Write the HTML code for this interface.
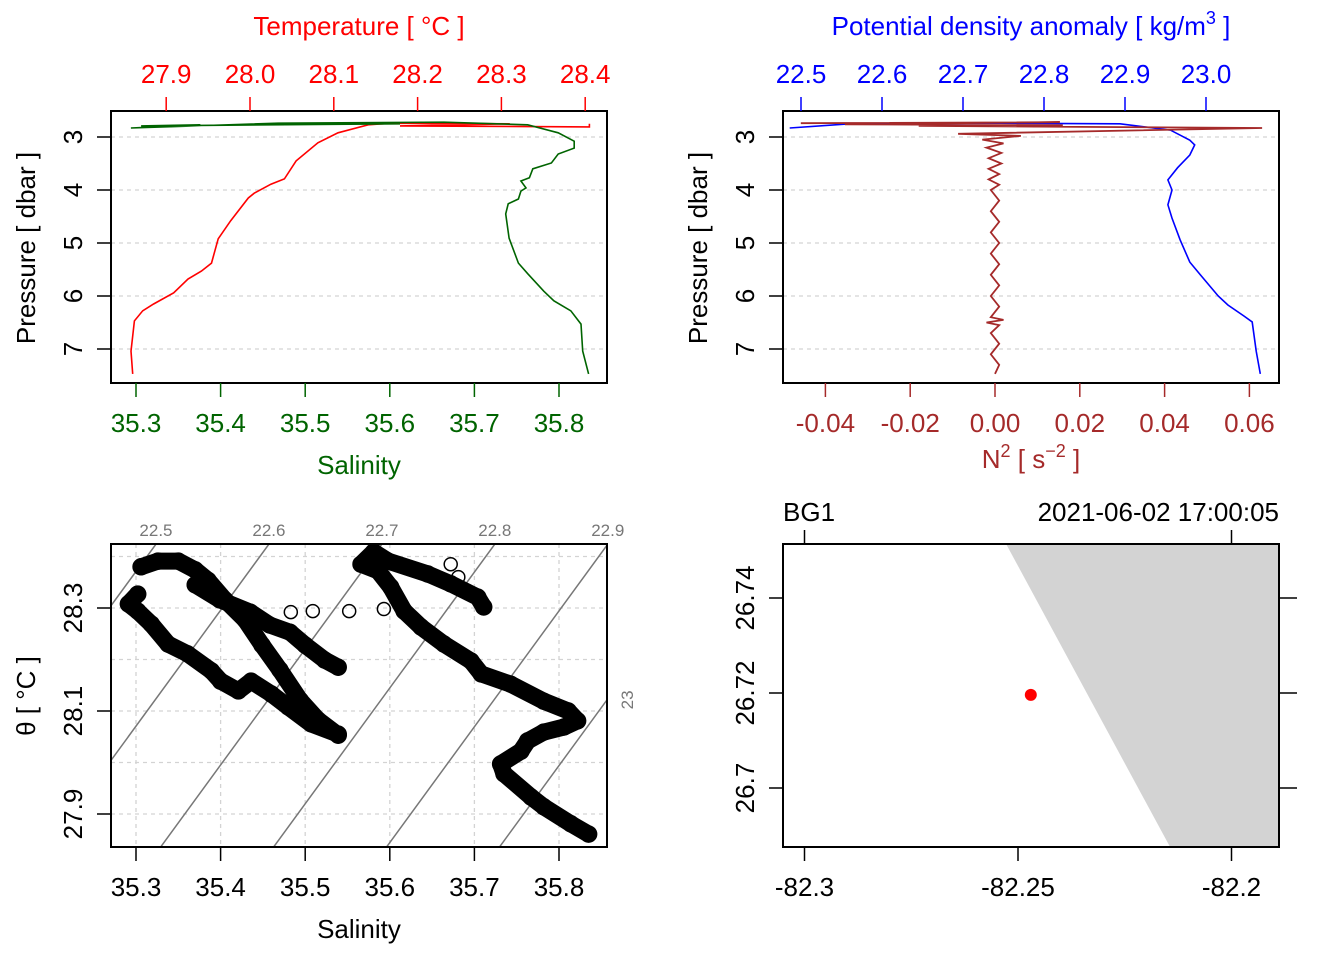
<!DOCTYPE html>
<html><head><meta charset="utf-8">
<style>
html,body{margin:0;padding:0;background:#fff;}
svg{display:block;font-family:"Liberation Sans",sans-serif;}
</style></head>
<body>
<svg id="chart" width="1344" height="960" viewBox="0 0 1344 960" xmlns="http://www.w3.org/2000/svg"></svg>
<script>
// ---------- DATA ----------
const tempP = [2.75,2.81,2.79,2.75,2.74,2.77,2.92,3.11,3.45,3.79,3.89,4.06,4.15,4.58,4.92,5.38,5.53,5.68,5.94,6.15,6.28,6.47,7.04,7.47];
const tempV = [28.405,28.405,28.179,28.31,28.168,28.141,28.105,28.081,28.055,28.041,28.025,28.005,27.998,27.977,27.962,27.954,27.942,27.926,27.909,27.885,27.872,27.862,27.858,27.86];
const salP = [2.75,2.79,2.77,2.83,2.74,2.72,2.77,2.92,3.08,3.21,3.32,3.49,3.6,3.77,3.83,3.96,4.02,4.17,4.26,4.45,4.91,5.38,5.58,5.91,6.09,6.28,6.53,7.04,7.47];
const salV = [35.612,35.306,35.376,35.294,35.468,35.664,35.763,35.799,35.818,35.818,35.799,35.791,35.769,35.765,35.755,35.761,35.755,35.752,35.74,35.737,35.741,35.752,35.763,35.782,35.794,35.814,35.826,35.828,35.835];
const sigP = [2.83,2.75,2.74,2.75,2.87,3.06,3.15,3.34,3.58,3.81,4.0,4.28,4.53,4.94,5.36,5.6,6.0,6.17,6.38,6.49,7.04,7.47];
const sigV = [22.486,22.56,22.746,22.894,22.956,22.98,22.986,22.98,22.965,22.953,22.958,22.953,22.958,22.968,22.98,22.993,23.015,23.027,23.047,23.057,23.062,23.067];
const n2P = [2.74,2.72,2.76,2.78,2.79,2.83,2.94,2.98,3.05,3.12,3.2,3.3,3.4,3.5,3.6,3.7,3.8,3.9,4.0,4.2,4.4,4.6,4.8,5.0,5.2,5.4,5.6,5.8,6.0,6.2,6.4,6.45,6.5,6.55,6.7,6.9,7.1,7.3,7.47];
const n2V = [-0.0458,0.0153,-0.0354,0.016,-0.018,0.063,-0.0087,0.0061,-0.003,0.002,-0.002,0.0015,-0.0015,0.0015,-0.0015,0.001,-0.0015,0.001,-0.001,0.001,-0.001,0.001,-0.001,0.001,-0.001,0.001,-0.001,0.001,-0.001,0.001,-0.001,0.002,-0.002,0.001,-0.001,0.001,-0.001,0.001,0.0];
const tsA_S = [35.835,35.814,35.782,35.767,35.735,35.731,35.755,35.763,35.782,35.806,35.822,35.811,35.782,35.743,35.708,35.696,35.664,35.637,35.617,35.601,35.586,35.566,35.581,35.598,35.645,35.672,35.704,35.711];
const tsA_T = [27.861,27.881,27.914,27.933,27.978,27.997,28.022,28.042,28.059,28.069,28.081,28.1,28.119,28.152,28.172,28.197,28.23,28.263,28.294,28.341,28.372,28.385,28.409,28.391,28.366,28.347,28.321,28.302];
const tsB_S = [35.539,35.507,35.48,35.46,35.436,35.421,35.4,35.389,35.361,35.338,35.318,35.302,35.291,35.302];
const tsB_T = [28.055,28.075,28.108,28.133,28.158,28.139,28.158,28.178,28.211,28.23,28.269,28.294,28.308,28.327];
const tsC_S = [35.306,35.326,35.35,35.37,35.385,35.405,35.429,35.449,35.47,35.494,35.515,35.539];
const tsC_T = [28.38,28.391,28.391,28.374,28.354,28.316,28.277,28.228,28.18,28.121,28.083,28.053];
const tsD_S = [35.37,35.399,35.435,35.458,35.482,35.5,35.523,35.539];
const tsD_T = [28.345,28.316,28.292,28.267,28.253,28.228,28.199,28.185];
const tsOpen_S = [35.672,35.681,35.692,35.707,35.593,35.552,35.509,35.483];
const tsOpen_T = [28.385,28.36,28.333,28.312,28.298,28.294,28.294,28.292];
const isoLevels = [22.5,22.6,22.7,22.8,22.9,23.0];
const tempTicks = [27.9,28.0,28.1,28.2,28.3,28.4];
const salTicks = [35.3,35.4,35.5,35.6,35.7,35.8];
const presTicks = [3,4,5,6,7];
const sigTicks = [22.5,22.6,22.7,22.8,22.9,23.0];
const n2Ticks = [-0.04,-0.02,0.0,0.02,0.04,0.06];
const thetaTicks = [27.9,28.1,28.3];
const thetaGrid = [27.9,28.0,28.1,28.2,28.3,28.4];
const lonTicks = [-82.3,-82.25,-82.2];
const latTicks = [26.7,26.72,26.74];
const coastLon = [-82.2528,-82.1,-82.1,-82.2144];
const coastLat = [26.7514,26.7514,26.6876,26.6876];
const stationLon = [-82.247];
const stationLat = [26.7196];

// ---------- HELPERS ----------
const svg = document.getElementById('chart');
const NS = 'http://www.w3.org/2000/svg';
const FS = 26;
function el(tag, attrs, parent){const e=document.createElementNS(NS,tag);for(const k in attrs)e.setAttribute(k,attrs[k]);(parent||svg).appendChild(e);return e;}
function txt(s, attrs, parent){const e=el('text',attrs,parent);e.textContent=s;return e;}
function poly(xs,ys){return xs.map((x,i)=>x.toFixed(1)+','+ys[i].toFixed(1)).join(' ');}

const xT = t => 250 + (t-28.0)*838;
const xS = s => 136 + (s-35.3)*846;
const yP = p => 137 + (p-3)*53;
const xSig = s => 801 + (s-22.5)*810;
const xN2 = n => 995 + n*4240;
const yTh = t => 608 - (t-28.3)*515;
const xLon = l => 1018 + (l+82.25)*4270;
const yLat = l => 693 - (l-26.72)*4750;

function grid(g,x1,y1,x2,y2){const e=el('line',{x1,y1,x2,y2,stroke:'#d3d3d3','stroke-width':1.3,'stroke-dasharray':'4,4'},g);}
function tick(g,x1,y1,x2,y2,c){const e=el('line',{x1,y1,x2,y2,stroke:c,'stroke-width':1.5},g);}
function box(g,x,y,w,h){const e=el('rect',{x,y,width:w,height:h,fill:'none',stroke:'#000','stroke-width':2},g);}

// ---------- PANEL 1 ----------
const g1 = el('g',{});  
presTicks.forEach(p=>grid(g1,111,yP(p),607,yP(p)));
const tl = el('polyline',{points:poly(tempV.map(xT),tempP.map(yP)),fill:'none',stroke:'#ff0000','stroke-width':1.6},g1);
 
const sl = el('polyline',{points:poly(salV.map(xS),salP.map(yP)),fill:'none',stroke:'#006400','stroke-width':1.6},g1);
 
box(g1,111,111,496,272);
tempTicks.forEach(t=>{tick(g1,xT(t),111,xT(t),97,'#ff0000');const e=txt(t.toFixed(1),{x:xT(t),y:83,'font-size':FS,fill:'#ff0000','text-anchor':'middle'},g1);});
salTicks.forEach(s=>{tick(g1,xS(s),383,xS(s),397,'#006400');const e=txt(s.toFixed(1),{x:xS(s),y:432,'font-size':FS,fill:'#006400','text-anchor':'middle'},g1);});
presTicks.forEach(p=>{tick(g1,111,yP(p),97,yP(p),'#000');const e=txt(String(p),{x:82,y:yP(p),'font-size':FS,'text-anchor':'middle',transform:`rotate(-90 82 ${yP(p)})`},g1);});
(()=>{let e=txt('Temperature [ °C ]',{x:359,y:35,'font-size':FS,fill:'#ff0000','text-anchor':'middle'},g1);
e=txt('Salinity',{x:359,y:474,'font-size':FS,fill:'#006400','text-anchor':'middle'},g1);
e=txt('Pressure [ dbar ]',{x:35,y:248,'font-size':FS,'text-anchor':'middle',transform:'rotate(-90 35 248)'},g1);})();

// ---------- PANEL 2 ----------
const g2 = el('g',{});  
presTicks.forEach(p=>grid(g2,783,yP(p),1279,yP(p)));
const bl = el('polyline',{points:poly(sigV.map(xSig),sigP.map(yP)),fill:'none',stroke:'#0000ff','stroke-width':1.6},g2);
 
const nl = el('polyline',{points:poly(n2V.map(xN2),n2P.map(yP)),fill:'none',stroke:'#a52a2a','stroke-width':1.8},g2);
 
box(g2,783,111,496,272);
sigTicks.forEach(t=>{tick(g2,xSig(t),111,xSig(t),97,'#0000ff');const e=txt(t.toFixed(1),{x:xSig(t),y:83,'font-size':FS,fill:'#0000ff','text-anchor':'middle'},g2);});
n2Ticks.forEach(n=>{tick(g2,xN2(n),383,xN2(n),397,'#a52a2a');const e=txt(n.toFixed(2),{x:xN2(n),y:432,'font-size':FS,fill:'#a52a2a','text-anchor':'middle'},g2);});
presTicks.forEach(p=>{tick(g2,783,yP(p),769,yP(p),'#000');const e=txt(String(p),{x:754,y:yP(p),'font-size':FS,'text-anchor':'middle',transform:`rotate(-90 754 ${yP(p)})`},g2);});
(()=>{let e=txt('',{x:1031,y:35,'font-size':FS,fill:'#0000ff','text-anchor':'middle'},g2);
e.innerHTML='Potential density anomaly [ kg/m<tspan dy="-11" font-size="18">3</tspan><tspan dy="11"> ]</tspan>';

e=txt('',{x:1031,y:468,'font-size':FS,fill:'#a52a2a','text-anchor':'middle'},g2);
e.innerHTML='N<tspan dy="-11" font-size="18">2</tspan><tspan dy="11"> [ s</tspan><tspan dy="-11" font-size="18">−2</tspan><tspan dy="11"> ]</tspan>';

e=txt('Pressure [ dbar ]',{x:707,y:248,'font-size':FS,'text-anchor':'middle',transform:'rotate(-90 707 248)'},g2);})();

// ---------- PANEL 3 (TS) ----------
const g3 = el('g',{});  
const clip = el('clipPath',{id:'tsclip'},g3); el('rect',{x:111,y:544,width:496,height:303},clip);
salTicks.forEach(s=>grid(g3,xS(s),544,xS(s),847));
thetaGrid.forEach(t=>grid(g3,111,yTh(t),607,yTh(t)));
const sAt = (lev,th) => 35.3236 + (lev-22.5 + 0.333*(th-28.424))/0.749;
const thTop = 28.424, thBot = 27.836;
isoLevels.forEach(lev=>{
  const e=el('line',{x1:xS(sAt(lev,thTop)),y1:yTh(thTop),x2:xS(sAt(lev,thBot)),y2:yTh(thBot),stroke:'#777','stroke-width':1.5,'clip-path':'url(#tsclip)'},g3);
  
  const xt=xS(sAt(lev,thTop));
  let lab;
  if(xt<=612){lab=txt(lev.toFixed(1),{x:xt,y:536,'font-size':17,fill:'#777','text-anchor':'middle'},g3);}
  else{const thR = 28.424 - ((xt-607)/ (xS(sAt(lev,thTop))-xS(sAt(lev,thBot))))*(thTop-thBot);
    const yy=yTh(thR);lab=txt(String(Math.round(lev*10)/10),{x:633,y:yy,'font-size':17,fill:'#777','text-anchor':'middle',transform:`rotate(-90 633 ${yy})`},g3);}
  
});
const segs=[[tsA_S,tsA_T],[tsB_S,tsB_T],[tsC_S,tsC_T],[tsD_S,tsD_T]];
segs.forEach(([ss,tt])=>{
  const e=el('polyline',{points:poly(ss.map(xS),tt.map(yTh)),fill:'none',stroke:'#000','stroke-width':17,'stroke-linejoin':'round','stroke-linecap':'round','clip-path':'url(#tsclip)'},g3);
  
  ss.forEach((s,i)=>{const c=el('circle',{cx:xS(s),cy:yTh(tt[i]),r:8,fill:'none',stroke:'#000','stroke-width':1.5},g3);});
});
tsOpen_S.forEach((s,i)=>{const c=el('circle',{cx:xS(s),cy:yTh(tsOpen_T[i]),r:6.5,fill:'none',stroke:'#000','stroke-width':1.5},g3);});
box(g3,111,544,496,303);
salTicks.forEach(s=>{tick(g3,xS(s),847,xS(s),861,'#000');const e=txt(s.toFixed(1),{x:xS(s),y:896,'font-size':FS,'text-anchor':'middle'},g3);});
thetaTicks.forEach(t=>{tick(g3,111,yTh(t),97,yTh(t),'#000');const e=txt(t.toFixed(1),{x:82,y:yTh(t),'font-size':FS,'text-anchor':'middle',transform:`rotate(-90 82 ${yTh(t)})`},g3);});
(()=>{let e=txt('Salinity',{x:359,y:938,'font-size':FS,'text-anchor':'middle'},g3);
e=txt('θ [ °C ]',{x:35,y:696,'font-size':FS,'text-anchor':'middle',transform:'rotate(-90 35 696)'},g3);})();

// ---------- PANEL 4 (map) ----------
const g4 = el('g',{});  
const clip2 = el('clipPath',{id:'mapclip'},g4); el('rect',{x:783,y:544,width:496,height:303},clip2);
const land = el('polygon',{points:poly(coastLon.map(xLon),coastLat.map(yLat)),fill:'#d3d3d3',stroke:'none','clip-path':'url(#mapclip)'},g4);
 
stationLon.forEach((l,i)=>{const c=el('circle',{cx:xLon(l),cy:yLat(stationLat[i]),r:6,fill:'#ff0000'},g4);});
box(g4,783,544,496,303);
lonTicks.forEach(l=>{tick(g4,xLon(l),847,xLon(l),861,'#000');const e=txt(String(l),{x:xLon(l),y:896,'font-size':FS,'text-anchor':'middle'},g4);});
[lonTicks[0],lonTicks[2]].forEach(l=>tick(g4,xLon(l),544,xLon(l),530,'#000'));
latTicks.forEach(l=>{tick(g4,783,yLat(l),769,yLat(l),'#000');tick(g4,1279,yLat(l),1297,yLat(l),'#000');const e=txt(String(l),{x:754,y:yLat(l),'font-size':FS,'text-anchor':'middle',transform:`rotate(-90 754 ${yLat(l)})`},g4);});
(()=>{let e=txt('BG1',{x:783,y:521,'font-size':FS},g4);
e=txt('2021-06-02 17:00:05',{x:1279,y:521,'font-size':FS,'text-anchor':'end'},g4);})();
</script>
</body></html>
